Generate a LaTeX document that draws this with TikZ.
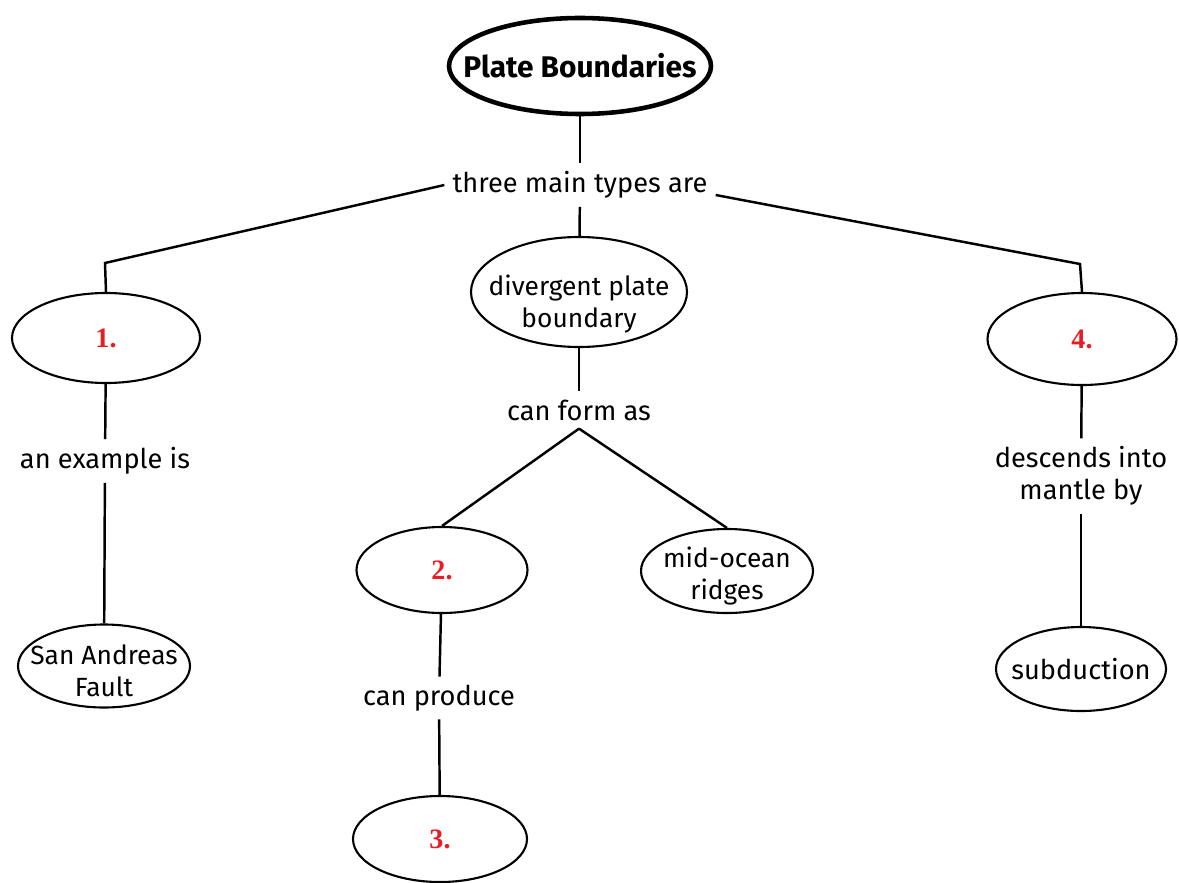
\documentclass[tikz,border=0pt]{standalone}
\usepackage{fontspec}
\setmainfont{Fira Sans}
\newfontfamily\numfont{Liberation Serif}
\usetikzlibrary{shapes.geometric}
\definecolor{numred}{RGB}{232,28,36}

\begin{document}
\begin{tikzpicture}[
            x = 0.02cm, y = -0.02cm, % pixel grid of the reference
            line width = 1.4pt, % line style
            every node/.style = {font = \fontsize{15.5}{18}\selectfont},
            dims/.style 2 args = {minimum width = #1*0.02cm, minimum height = #2*0.02cm},
            txt/.style = {label = {[align = center, yshift = -0.1cm, font = \fontsize{15}{18}\selectfont]center:#1}}, % text does not size the ellipse
            lowtxt/.style = {label = {[align = center, yshift = -0.24cm, font = \fontsize{15}{18}\selectfont]center:#1}},
            blank/.style = {label = {[text = numred, font = \numfont\bfseries\fontsize{16}{18}\selectfont]center:#1}}
        ]

        \tikzstyle{concept}=[
            draw = black,
            ellipse,
            line width = 1.2pt,
            inner sep = 0pt
        ]
        \tikzstyle{linkword}=[
            inner sep = 4pt,
            align = center
        ]

        \useasboundingbox (0,0) rectangle (1179,882);

        % top
        \node[concept, dims = {262}{96}, line width = 2.6pt,
            label = {[font = \bfseries\fontsize{17}{20}\selectfont]center:Plate Boundaries}] (pb) at (580,66) {};
        \node[linkword] (types) at (580,185) {three main types are};

        % three branches
        \node[concept, dims = {188}{90}, blank = {1.}] (one) at (106,338) {};
        \node[concept, dims = {216}{110}, lowtxt = {divergent plate\\boundary}] (div) at (579,292) {};
        \node[concept, dims = {189}{92}, blank = {4.}] (four) at (1082,339) {};
        \coordinate (bendL) at (105,263);
        \coordinate (bendR) at (1080,264);

        % left
        \node[linkword] (example) at (105,461) {an example is};
        \node[concept, dims = {172}{83}, txt = {San Andreas\\Fault}] (saf) at (104,666) {};

        % middle
        \node[linkword] (form) at (579,410) {can form as};
        \node[concept, dims = {171}{86}, blank = {2.}] (two) at (442,570) {};
        \node[concept, dims = {172}{84}, txt = {mid-ocean\\ridges}] (mor) at (727,571) {};
        \node[linkword] (produce) at (439,698) {can produce};
        \node[concept, dims = {174}{86}, blank = {3.}] (three) at (440,839) {};

        % right
        \node[linkword] (descends) at (1081,476) {descends into\\mantle by};
        \node[concept, dims = {170}{84}, label = {center:subduction}] (sub) at (1081,669) {};

        \draw (pb) -- (types);
        \draw (types) -- (div);
        \draw (types.west) -- (bendL) -- (one.north);
        \draw (types.east) ++(0,10) -- (bendR) -- (four.north);
        \draw (one) -- (example);
        \draw (example) -- (saf);
        \draw (div) -- (form);
        \draw (form.south) -- (two.north);
        \draw (form.south) -- (mor.north);
        \draw (two) -- (produce);
        \draw (produce) -- (three);
        \draw (four) -- (descends);
        \draw (descends) -- (sub);
    \end{tikzpicture}
\end{document}
